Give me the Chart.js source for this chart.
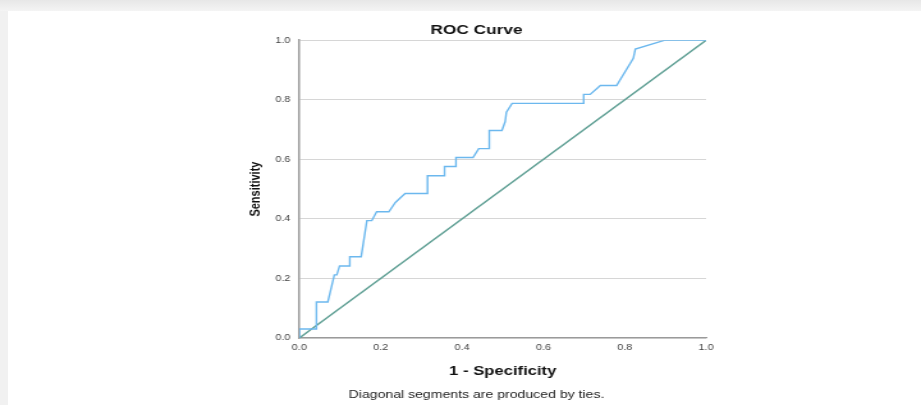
<!DOCTYPE html>
<html>
<head>
<meta charset="utf-8">
<script src="https://cdn.jsdelivr.net/npm/chart.js@4/dist/chart.umd.min.js"></script>
<style>
  html, body { margin: 0; padding: 0; }
  body {
    width: 921px; height: 405px; overflow: hidden; position: relative;
    background: linear-gradient(to bottom, #e7e7e7 0px, #f4f4f4 11px, #f1f1f1 11px);
  }
  #panel { position: absolute; left: 8px; top: 11px; right: 0; bottom: 0; background: #fff; }
  #roc { position: absolute; left: 0; top: 0; width: 921px; height: 405px; }
</style>
</head>
<body>
<div id="panel"></div>
<canvas id="roc" width="720" height="405" style="width:921px;height:405px"></canvas>
<script>
// 1 - specificity / sensitivity
const fpr = [0, 0, 0.042, 0.042, 0.070, 0.086, 0.092, 0.099, 0.124, 0.124, 0.152, 0.166, 0.178, 0.190, 0.220, 0.236, 0.260, 0.315, 0.315, 0.357, 0.357, 0.385, 0.385, 0.427, 0.441, 0.467, 0.467, 0.498, 0.506, 0.509, 0.523, 0.699, 0.699, 0.715, 0.740, 0.780, 0.821, 0.826, 0.899, 1];
const tpr = [0, 0.030, 0.030, 0.121, 0.121, 0.212, 0.212, 0.242, 0.242, 0.273, 0.273, 0.394, 0.394, 0.424, 0.424, 0.455, 0.485, 0.485, 0.545, 0.545, 0.576, 0.576, 0.606, 0.606, 0.636, 0.636, 0.697, 0.697, 0.727, 0.758, 0.788, 0.788, 0.818, 0.818, 0.848, 0.848, 0.939, 0.970, 1, 1];
const refX = [0, 1];
const refY = [0, 1];

const tickFont = { family: 'Liberation Sans, Arial, sans-serif', size: 8.5 };
const fmt = v => v.toFixed(1);

new Chart(document.getElementById('roc').getContext('2d'), {
    type: 'line',
    data: {
        datasets: [{
            data: fpr.map((x, i) => ({ x: x, y: tpr[i] })),
            borderColor: '#6cb8ee',
            borderWidth: 1.4,
            pointRadius: 0,
            tension: 0
        }, {
            data: refX.map((x, i) => ({ x: x, y: refY[i] })),
            borderColor: '#5f9f94',
            borderWidth: 1.4,
            pointRadius: 0
        }]
    },
    options: {
        responsive: false,
        animation: false,
        layout: { padding: { left: 193, right: 168, top: 22, bottom: 3 } },
        plugins: {
            legend: { display: false },
            tooltip: { enabled: false },
            title: {
                display: true, text: 'ROC Curve', color: '#111',
                font: { family: 'Liberation Sans, Arial, sans-serif', size: 13.5, weight: 'bold' },
                padding: { top: 0, bottom: 2 }
            },
            subtitle: {
                display: true, position: 'bottom', text: 'Diagonal segments are produced by ties.', color: '#222',
                font: { family: 'Liberation Sans, Arial, sans-serif', size: 11 },
                padding: { top: 0, bottom: 0 }
            }
        },
        scales: {
            x: {
                type: 'linear', min: 0, max: 1,
                grid: { display: false, drawTicks: false },
                border: { display: true, color: '#9a9a9a', width: 1.2 },
                ticks: { stepSize: 0.2, padding: 5, color: '#444', font: tickFont, callback: fmt, maxRotation: 0 },
                title: {
                    display: true, text: '1 - Specificity', color: '#111',
                    font: { family: 'Liberation Sans, Arial, sans-serif', size: 13, weight: 'bold' },
                    padding: { top: 5, bottom: 10 }
                }
            },
            y: {
                min: 0, max: 1,
                grid: { color: '#d6d6d6', lineWidth: 1, drawTicks: false },
                border: { display: true, color: '#9a9a9a', width: 1.5 },
                ticks: { stepSize: 0.2, padding: 7, color: '#444', font: tickFont, callback: fmt },
                title: {
                    display: true, text: 'Sensitivity', color: '#111',
                    font: { family: 'Liberation Sans Narrow, Liberation Sans, Arial, sans-serif', size: 11, weight: 'bold' },
                    padding: { top: 0, bottom: 2 }
                }
            }
        }
    }
});
</script>
</body>
</html>
